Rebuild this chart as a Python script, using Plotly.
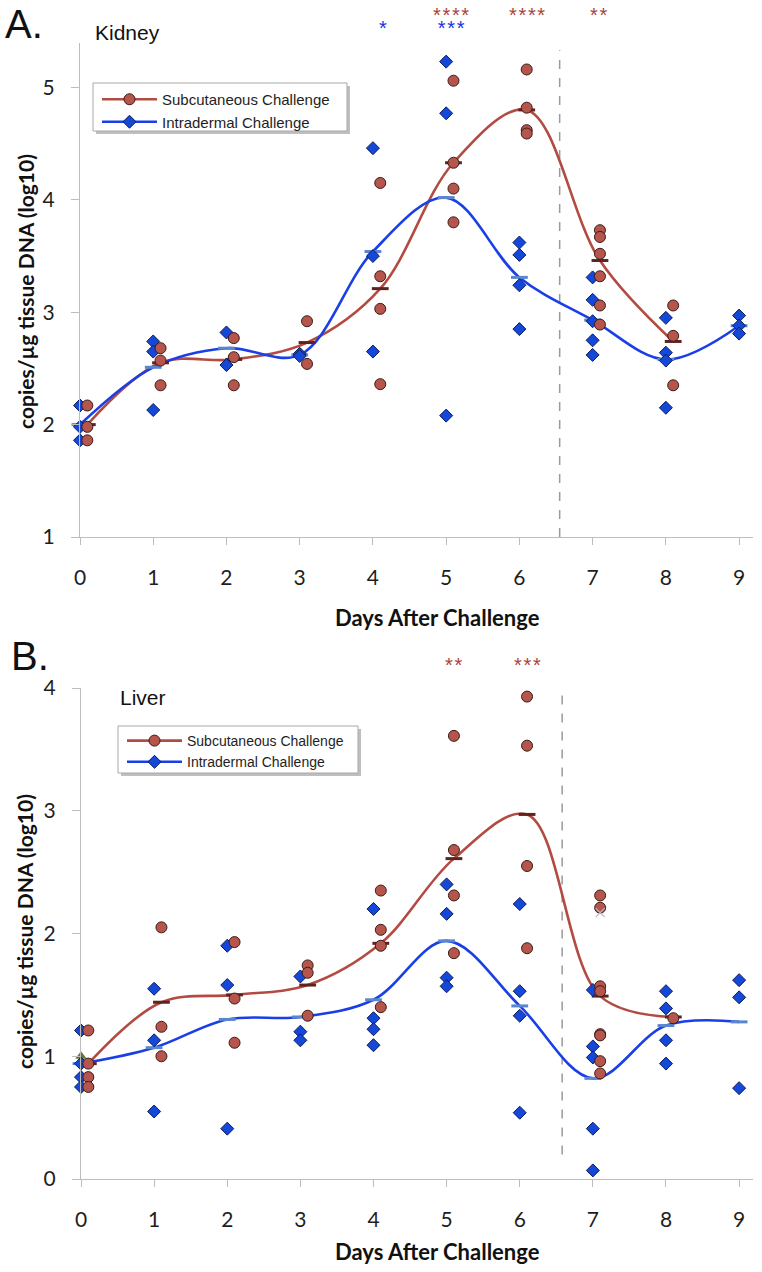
import plotly.graph_objects as go

W, H = 762, 1272

days = list(range(10))
day_labels = [str(d) for d in days]

# ---------------- Panel A : Kidney ----------------
kidney_sc_points = [
    [2.17, 1.98, 1.86],
    [2.68, 2.57, 2.35],
    [2.77, 2.60, 2.35],
    [2.92, 2.54],
    [4.15, 3.32, 3.03, 2.36],
    [5.06, 4.33, 4.10, 3.80],
    [5.16, 4.82, 4.62, 4.59],
    [3.73, 3.67, 3.52, 3.32, 3.06, 2.89],
    [3.06, 2.79, 2.35],
]
kidney_id_points = [
    [2.17, 1.98, 1.86],
    [2.74, 2.65, 2.13],
    [2.82, 2.53],
    [2.63, 2.61],
    [4.46, 3.50, 2.65],
    [5.23, 4.77, 2.08],
    [3.62, 3.51, 3.24, 2.85],
    [3.31, 3.11, 2.92, 2.75, 2.62],
    [2.95, 2.64, 2.57, 2.15],
    [2.97, 2.88, 2.81],
]
kidney_sc_mean = [2.00, 2.55, 2.58, 2.73, 3.21, 4.33, 4.80, 3.46, 2.74]
kidney_id_mean = [2.00, 2.51, 2.68, 2.62, 3.54, 4.02, 3.31, 2.93, 2.58, 2.88]
kidney_yticks = [1, 2, 3, 4, 5]

# ---------------- Panel B : Liver ----------------
liver_sc_points = [
    [1.21, 0.94, 0.83, 0.75],
    [2.05, 1.24, 1.00],
    [1.93, 1.47, 1.11],
    [1.74, 1.68, 1.33],
    [2.35, 2.03, 1.90, 1.40],
    [3.61, 2.68, 2.31, 1.84],
    [3.93, 3.53, 2.55, 1.88],
    [2.31, 2.21, 1.57, 1.53, 1.18, 1.17, 0.96, 0.86],
    [1.31],
]
liver_id_points = [
    [1.21, 0.94, 0.83, 0.75],
    [1.55, 1.13, 0.55],
    [1.90, 1.58, 0.41],
    [1.65, 1.20, 1.13],
    [2.20, 1.31, 1.22, 1.09],
    [2.40, 2.16, 1.64, 1.57],
    [2.24, 1.53, 1.33, 0.54],
    [1.54, 1.08, 0.99, 0.41, 0.07],
    [1.53, 1.39, 1.13, 0.94],
    [1.62, 1.48, 0.74],
]
liver_sc_mean = [0.94, 1.44, 1.50, 1.58, 1.92, 2.61, 2.97, 1.49, 1.32]
liver_id_mean = [0.94, 1.07, 1.30, 1.32, 1.46, 1.94, 1.41, 0.82, 1.25, 1.28]
liver_yticks = [0, 1, 2, 3, 4]
liver_extra_triangle = ([0], [1.00])
liver_extra_cross = ([7.1], [2.17])

# significance stars per day: (day position, n subcutaneous stars, n intradermal stars)
kidney_stars = [(4.14, 0, 1), (5.06, 4, 3), (6.11, 4, 0), (7.08, 2, 0)]
liver_stars = [(5.1, 2, 0), (6.1, 3, 0)]

series_names = ["Subcutaneous Challenge", "Intradermal Challenge"]

# ---------------- styles ----------------
SC_OFFSET = 0.1
RED_LINE = "#b24c43"
RED_FILL = "#b5554b"
RED_EDGE = "#3a1c18"
RED_MEAN = "#5e2320"
BLUE_LINE = "#1a3fe6"
BLUE_FILL = "#1548d8"
BLUE_EDGE = "#0c1e5a"
BLUE_MEAN = "#5a86cf"
RED_STAR = "#a8423c"
BLUE_STAR = "#1a2fe8"
AXIS_GRAY = "#bdbdbd"
TXT = "#1e1e1e"
FONT_TICK = "Lato, Open Sans, sans-serif"
FONT_SANS = "Liberation Sans, Arial, sans-serif"


def flatten(points, offset):
    xs, ys = [], []
    for d, vals in enumerate(points):
        for v in vals:
            xs.append(d + offset)
            ys.append(v)
    return xs, ys


fig = go.Figure()


def add_panel(xa, ya, sc_points, id_points, sc_mean, id_mean, legend):
    fig.add_trace(go.Scatter(
        x=[d + SC_OFFSET for d in days[:len(sc_mean)]], y=sc_mean, mode="lines",
        line=dict(color=RED_LINE, width=2.6, shape="spline", smoothing=1.0),
        xaxis=xa, yaxis=ya, showlegend=False, hoverinfo="skip", cliponaxis=False))
    fig.add_trace(go.Scatter(
        x=days[:len(id_mean)], y=id_mean, mode="lines",
        line=dict(color=BLUE_LINE, width=2.6, shape="spline", smoothing=1.0),
        xaxis=xa, yaxis=ya, showlegend=False, hoverinfo="skip", cliponaxis=False))
    fig.add_trace(go.Scatter(
        x=[d + SC_OFFSET for d in days[:len(sc_mean)]], y=sc_mean, mode="markers",
        marker=dict(symbol="line-ew", size=12, line=dict(color=RED_MEAN, width=3)),
        xaxis=xa, yaxis=ya, showlegend=False, cliponaxis=False))
    fig.add_trace(go.Scatter(
        x=days[:len(id_mean)], y=id_mean, mode="markers",
        marker=dict(symbol="line-ew", size=12, line=dict(color=BLUE_MEAN, width=3)),
        xaxis=xa, yaxis=ya, showlegend=False, cliponaxis=False))
    ix, iy = flatten(id_points, 0.0)
    fig.add_trace(go.Scatter(
        x=ix, y=iy, mode="markers",
        marker=dict(symbol="diamond", size=10, color=BLUE_FILL,
                    line=dict(color=BLUE_EDGE, width=1)),
        xaxis=xa, yaxis=ya, showlegend=False, cliponaxis=False))
    sx, sy = flatten(sc_points, SC_OFFSET)
    fig.add_trace(go.Scatter(
        x=sx, y=sy, mode="markers",
        marker=dict(symbol="circle", size=11, color=RED_FILL,
                    line=dict(color=RED_EDGE, width=1)),
        xaxis=xa, yaxis=ya, showlegend=False, cliponaxis=False))
    fig.add_trace(go.Scatter(
        x=[None], y=[None], mode="lines+markers", name=series_names[0],
        line=dict(color=RED_LINE, width=2.6),
        marker=dict(symbol="circle", size=11, color=RED_FILL, line=dict(color=RED_EDGE, width=1)),
        xaxis=xa, yaxis=ya, legend=legend))
    fig.add_trace(go.Scatter(
        x=[None], y=[None], mode="lines+markers", name=series_names[1],
        line=dict(color=BLUE_LINE, width=2.6),
        marker=dict(symbol="diamond", size=10, color=BLUE_FILL, line=dict(color=BLUE_EDGE, width=1)),
        xaxis=xa, yaxis=ya, legend=legend))


add_panel("x", "y", kidney_sc_points, kidney_id_points, kidney_sc_mean, kidney_id_mean, "legend")

fig.add_trace(go.Scatter(
    x=liver_extra_triangle[0], y=liver_extra_triangle[1], mode="markers",
    marker=dict(symbol="triangle-up", size=10, color="#5f7a2e"),
    xaxis="x2", yaxis="y2", showlegend=False, cliponaxis=False))
add_panel("x2", "y2", liver_sc_points, liver_id_points, liver_sc_mean, liver_id_mean, "legend2")
fig.add_trace(go.Scatter(
    x=liver_extra_cross[0], y=liver_extra_cross[1], mode="markers",
    marker=dict(symbol="x-thin", size=9, line=dict(color="#b8b8c8", width=1.2)),
    xaxis="x2", yaxis="y2", showlegend=False, cliponaxis=False))


def px_x(p):
    return p / W


def px_y(p):
    return 1 - p / H


xaxis_common = dict(
    range=[0, 9.19], tickmode="array", tickvals=days, ticktext=day_labels,
    showline=True, linecolor=AXIS_GRAY, linewidth=1,
    ticks="outside", ticklen=7, tickcolor=AXIS_GRAY,
    showgrid=False, zeroline=False, ticklabelstandoff=15, automargin=False,
    tickfont=dict(family=FONT_TICK, size=21, color=TXT), fixedrange=True,
)
yaxis_common = dict(
    showline=True, linecolor=AXIS_GRAY, linewidth=1,
    ticks="outside", ticklen=8, tickcolor=AXIS_GRAY,
    showgrid=False, zeroline=False, ticklabelstandoff=12, automargin=False,
    tickfont=dict(family=FONT_TICK, size=21, color=TXT), fixedrange=True,
)

legend_common = dict(xanchor="left", yanchor="top", bgcolor="rgba(0,0,0,0)",
                     borderwidth=0, itemwidth=55, tracegroupgap=0)

fig.update_layout(
    width=W, height=H, autosize=False,
    margin=dict(l=0, r=0, t=0, b=0, pad=0, autoexpand=False),
    paper_bgcolor="white", plot_bgcolor="white",
    xaxis=dict(domain=[px_x(80), px_x(753)], anchor="y", **xaxis_common),
    yaxis=dict(domain=[px_y(537), px_y(42.5)], anchor="x", range=[1, 5.4],
               tickvals=kidney_yticks, **yaxis_common),
    xaxis2=dict(domain=[px_x(81), px_x(753)], anchor="y2", **xaxis_common),
    yaxis2=dict(domain=[px_y(1179), px_y(688)], anchor="x2", range=[0, 4],
                tickvals=liver_yticks, **yaxis_common),
    legend=dict(x=px_x(97), y=px_y(83), font=dict(family=FONT_SANS, size=15, color=TXT),
                **legend_common),
    legend2=dict(x=px_x(122), y=px_y(725), font=dict(family=FONT_SANS, size=14, color=TXT),
                 **legend_common),
    showlegend=True,
)

# dashed vertical lines
fig.add_shape(type="line", xref="x", yref="y", x0=6.55, x1=6.55, y0=1, y1=5.33,
              line=dict(color="#9a9a9a", width=1.5, dash="dash"), layer="below")
fig.add_shape(type="line", xref="x2", yref="y2", x0=6.58, x1=6.58, y0=0.2, y1=3.94,
              line=dict(color="#9a9a9a", width=1.5, dash="dash"), layer="below")

# legend boxes with drop shadow
for (x0, y0, x1, y1) in [(93, 83, 347, 131), (118, 726, 358, 773)]:
    fig.add_shape(type="rect", xref="paper", yref="paper",
                  x0=px_x(x0 + 3), x1=px_x(x1 + 3), y0=px_y(y1 + 3), y1=px_y(y0 + 3),
                  line=dict(width=0), fillcolor="rgba(0,0,0,0.25)", layer="above")
    fig.add_shape(type="rect", xref="paper", yref="paper",
                  x0=px_x(x0), x1=px_x(x1), y0=px_y(y1), y1=px_y(y0),
                  line=dict(width=1, color="#a8a8a8"), fillcolor="white", layer="above")

ann = []
ann.append(dict(text="A.", x=px_x(3), y=1.0, xanchor="left", yanchor="top",
                font=dict(family=FONT_SANS, size=40, color="#111")))
ann.append(dict(text="Kidney", x=px_x(93), y=px_y(33), xanchor="left", yanchor="middle",
                font=dict(family=FONT_SANS, size=21, color="#111")))
ann.append(dict(text="B.", x=px_x(9), y=px_y(656), xanchor="left", yanchor="middle",
                font=dict(family=FONT_SANS, size=40, color="#111")))
ann.append(dict(text="Liver", x=px_x(118), y=px_y(697), xanchor="left", yanchor="middle",
                font=dict(family=FONT_SANS, size=21, color="#111")))
ann.append(dict(text="<b>Days After Challenge</b>", x=px_x(437), y=px_y(617),
                xanchor="center", yanchor="middle",
                font=dict(family=FONT_TICK, size=22, color="#111")))
ann.append(dict(text="<b>Days After Challenge</b>", x=px_x(437), y=px_y(1251),
                xanchor="center", yanchor="middle",
                font=dict(family=FONT_TICK, size=22, color="#111")))
ann.append(dict(text="<b>copies/µg tissue DNA (log10)</b>", x=px_x(25), y=px_y(292),
                xanchor="center", yanchor="middle", textangle=-90,
                font=dict(family=FONT_TICK, size=21, color="#111")))
ann.append(dict(text="<b>copies/µg tissue DNA (log10)</b>", x=px_x(25), y=px_y(932),
                xanchor="center", yanchor="middle", textangle=-90,
                font=dict(family=FONT_TICK, size=21, color="#111")))
for a in ann:
    a.update(xref="paper", yref="paper", showarrow=False)


def stars(n):
    return "\u200a".join(["*"] * n)


def star_text(n_sc, n_id):
    red = "<span style='color:%s;font-size:20px'>%s</span>" % (RED_STAR, stars(n_sc) if n_sc else "\u00a0")
    blue = "<span style='color:%s;font-size:20px'>%s</span>" % (BLUE_STAR, stars(n_id) if n_id else "\u00a0")
    return red + "<br>" + blue


# two stacked rows (subcutaneous on top, intradermal below), line spacing ~13px
for xd, n_sc, n_id in kidney_stars:
    ann.append(dict(text=star_text(n_sc, n_id), x=xd, xref="x", y=px_y(2), yref="paper",
                    showarrow=False, xanchor="center", yanchor="top",
                    font=dict(family=FONT_SANS, size=10, color=RED_STAR)))
for xd, n_sc, n_id in liver_stars:
    ann.append(dict(text=stars(n_sc), x=xd, xref="x2", y=px_y(665), yref="paper",
                    showarrow=False, xanchor="center", yanchor="middle",
                    font=dict(family=FONT_SANS, size=20, color=RED_STAR)))

fig.update_layout(annotations=ann)

fig.write_html(
    "out.html",
    config={"displayModeBar": False},
    post_script="document.body.style.margin='0';document.body.style.overflow='hidden';",
)
